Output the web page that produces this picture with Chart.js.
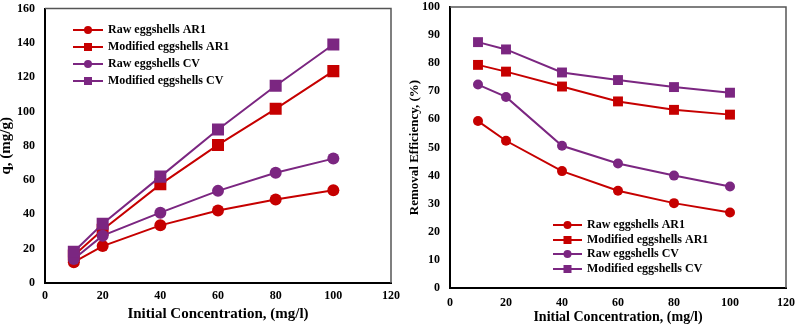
<!DOCTYPE html>
<html>
<head>
<meta charset="utf-8">
<script src="https://cdn.jsdelivr.net/npm/chart.js@4.4.1/dist/chart.umd.min.js"></script>
<style>
  body { margin: 0; background: #fff; }
  .wrap { position: absolute; top: 0; height: 326px; }
  #left { left: 0; width: 400px; }
  #right { left: 400px; width: 395px; }
</style>
</head>
<body>
<div class="wrap" id="left"><canvas id="qChart" width="400" height="326"></canvas></div>
<div class="wrap" id="right"><canvas id="reChart" width="395" height="326"></canvas></div>
<script>
const concentrations = [10, 20, 40, 60, 80, 100];
const seriesNames = ['Raw eggshells AR1', 'Modified eggshells AR1', 'Raw eggshells CV', 'Modified eggshells CV'];

// adsorption capacity q (mg/g)
const qRawAR1 = [12.1, 21.5, 33.6, 42.2, 48.7, 54.1];
const qModAR1 = [16.0, 31.0, 57.5, 80.5, 101.5, 123.5];
const qRawCV = [14.0, 27.6, 41.0, 53.7, 64.3, 72.5];
const qModCV = [18.2, 34.5, 62.0, 89.5, 115.0, 139.0];

// removal efficiency (%)
const reRawAR1 = [59.4, 52.4, 41.6, 34.6, 30.2, 26.9];
const reModAR1 = [79.4, 77.0, 71.7, 66.4, 63.4, 61.7];
const reRawCV = [72.4, 68.0, 50.6, 44.3, 40.0, 36.1];
const reModCV = [87.5, 84.9, 76.7, 74.0, 71.5, 69.5];

const red = '#c60000';
const purple = '#7b2681';
const colors = [red, red, purple, purple];
const styles = ['circle', 'rect', 'circle', 'rect'];
const fontFamily = "'Liberation Serif', 'Times New Roman', serif";

Chart.defaults.font.family = fontFamily;
Chart.defaults.color = '#000';

function makeDatasets(seriesList, circleR, rectR) {
  return seriesList.map((vals, i) => ({
    label: seriesNames[i],
    data: concentrations.map((c, j) => ({ x: c, y: vals[j] })),
    borderColor: colors[i],
    backgroundColor: colors[i],
    pointStyle: styles[i],
    pointRadius: styles[i] === 'rect' ? rectR : circleR,
    pointBorderWidth: 0,
    borderWidth: 2,
    order: 3 - i
  }));
}

// legend drawn inside the plot area
const insideLegend = {
  id: 'insideLegend',
  afterDraw(chart, args, opts) {
    const ctx = chart.ctx;
    ctx.save();
    ctx.font = `bold ${opts.fontSize}px ${fontFamily}`;
    ctx.textBaseline = 'middle';
    chart.data.datasets.forEach((ds, i) => {
      const y = opts.rows[i];
      ctx.strokeStyle = ds.borderColor;
      ctx.lineWidth = 2;
      ctx.beginPath();
      ctx.moveTo(opts.x, y);
      ctx.lineTo(opts.x + opts.lineLen, y);
      ctx.stroke();
      ctx.fillStyle = ds.borderColor;
      const mx = opts.x + opts.lineLen / 2;
      if (ds.pointStyle === 'circle') {
        ctx.beginPath();
        ctx.arc(mx, y, opts.marker / 2, 0, Math.PI * 2);
        ctx.fill();
      } else {
        ctx.fillRect(mx - opts.marker / 2, y - opts.marker / 2, opts.marker, opts.marker);
      }
      ctx.fillStyle = '#000';
      ctx.fillText(ds.label, opts.x + opts.lineLen + 5, y);
    });
    ctx.restore();
  }
};

// thin grey frame on top and right side
const frame = {
  id: 'frame',
  beforeDatasetsDraw(chart) {
    const { ctx, chartArea: a } = chart;
    ctx.save();
    ctx.strokeStyle = '#555';
    ctx.lineWidth = 1.5;
    ctx.beginPath();
    ctx.moveTo(a.left, a.top);
    ctx.lineTo(a.right, a.top);
    ctx.lineTo(a.right, a.bottom);
    ctx.stroke();
    ctx.restore();
  }
};

function buildChart(canvas, datasets, cfg) {
  return new Chart(canvas, {
    type: 'line',
    data: { datasets },
    plugins: [frame, insideLegend],
    options: {
      responsive: false,
      animation: false,
      layout: { padding: cfg.padding },
      plugins: {
        legend: { display: false },
        tooltip: { enabled: false },
        insideLegend: cfg.legend
      },
      scales: {
        x: {
          type: 'linear',
          min: 0, max: 120,
          ticks: { stepSize: 20, font: { size: 12, weight: 'bold' }, padding: cfg.xTickPad },
          grid: { display: false, drawTicks: false },
          border: { color: '#000', width: 2 },
          title: { display: true, text: 'Initial Concentration, (mg/l)', font: { size: cfg.xTitleSize, weight: 'bold' }, padding: cfg.xTitlePad },
          afterFit: s => { s.height = cfg.xHeight; s.paddingLeft = 0; s.paddingRight = 0; }
        },
        y: {
          min: 0, max: cfg.yMax,
          ticks: { stepSize: cfg.yStep, font: { size: 12, weight: 'bold' }, padding: cfg.yTickPad },
          grid: { display: false, drawTicks: false },
          border: { color: '#000', width: 2 },
          title: { display: true, text: cfg.yTitle, font: { size: cfg.yTitleSize, weight: 'bold' }, padding: cfg.yTitlePad },
          afterFit: s => { s.width = cfg.yWidth; s.paddingTop = 0; s.paddingBottom = 0; }
        }
      }
    }
  });
}

buildChart(document.getElementById('qChart'),
  makeDatasets([qRawAR1, qModAR1, qRawCV, qModCV], 6, 8.5), {
    padding: { top: 3, right: 9, left: 0, bottom: 0 },
    yMax: 160, yStep: 20, yTitle: 'q, (mg/g)', yTitleSize: 15,
    yWidth: 45, xHeight: 43, xTitleSize: 15,
    xTickPad: 6, yTickPad: 10,
    xTitlePad: { top: 0, bottom: 3 }, yTitlePad: { top: -3, bottom: 0 },
    legend: { x: 73, lineLen: 30, rows: [30, 47, 64, 81], fontSize: 12, marker: 8 }
  });

buildChart(document.getElementById('reChart'),
  makeDatasets([reRawAR1, reModAR1, reRawCV, reModCV], 5, 7), {
    padding: { top: 4, right: 9, left: 0, bottom: 0 },
    yMax: 100, yStep: 10, yTitle: 'Removal Efficiency, (%)', yTitleSize: 13,
    yWidth: 50, xHeight: 38, xTitleSize: 14,
    xTickPad: 8, yTickPad: 10,
    xTitlePad: { top: 0, bottom: 0 }, yTitlePad: { top: 7, bottom: 0 },
    legend: { x: 153, lineLen: 29, rows: [225, 240, 254, 269], fontSize: 12, marker: 8 }
  });
</script>
</body>
</html>
